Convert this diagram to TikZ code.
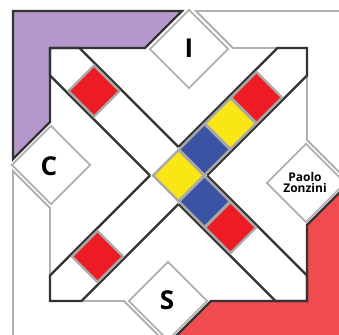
\documentclass[tikz,border=0pt]{standalone}
\usepackage{fontspec}
\setmainfont{Open Sans}
\usetikzlibrary{shapes.geometric}
\definecolor{darkln}{RGB}{51,51,51}
\definecolor{lgray}{RGB}{178,176,172}
\definecolor{tgray}{RGB}{168,168,166}
\definecolor{purp}{RGB}{180,152,203}
\definecolor{redpc}{RGB}{239,75,80}
\definecolor{tred}{RGB}{237,28,36}
\definecolor{tyel}{RGB}{250,230,20}
\definecolor{tblue}{RGB}{58,83,164}
\tikzset{
  darkline/.style={draw=darkln, line width=2.2pt, line join=miter},
  grayline/.style={draw=lgray, line width=1.8pt, line join=miter},
  tilesq/.style={shape=diamond, shape aspect=1, minimum width=52pt, minimum height=52pt, inner sep=0pt, draw=tgray, line width=2.2pt},
  spot/.style={shape=diamond, shape aspect=1, minimum width=79pt, minimum height=79pt, inner sep=0pt, fill=white, draw=lgray, line width=1.8pt},
  letter/.style={font=\fontsize{26}{26}\selectfont\bfseries},
  author/.style={font=\fontsize{12}{11}\selectfont\bfseries, align=center}
}
\begin{document}
\begin{tikzpicture}[x=1pt,y=-1pt]
\useasboundingbox (0,0) rectangle (339,334);
\clip (0,0) rectangle (339,334);
\fill[white] (0,0) rectangle (339,334);
% corner pieces
\path[fill=purp, darkline] (13,11) -- (182,11) -- (145,48) -- (50,48) -- (50,122) -- (13,159) -- cycle;
\path[fill=redpc, darkline] (345,187) -- (307,225) -- (307,301) -- (211,301) -- (174,338) -- (345,338) -- cycle;
\path[grayline] (196,11) -- (360,11) -- (360,193) -- (345,178) -- (307,140) -- (307,48) -- (233,48) -- cycle;
\path[grayline] (13,171) -- (50,208) -- (50,301) -- (124,301) -- (161,338) -- (13,338) -- cycle;
% bands
\path[darkline] (178.5,147) -- (79.5,48) -- (50,48) -- (50,75.5) -- (150,175.5);
\path[darkline] (178.5,147) -- (277.5,48) -- (307,48) -- (307,75.5) -- (207,175.5);
\path[darkline] (207,175.5) -- (307,275.5) -- (307,301) -- (275.5,301) -- (178.5,204);
\path[darkline] (150,175.5) -- (50,275.5) -- (50,301) -- (81.5,301) -- (178.5,204);
% tiles
\node[tilesq, fill=tred] (t1) at (94,91) {};
\node[tilesq, fill=tyel] (t2) at (178.5,175.5) {};
\node[tilesq, fill=tblue] (t3) at (204.5,201.5) {};
\node[tilesq, fill=tred] (t4) at (230.5,227.5) {};
\node[tilesq, fill=tblue] (t5) at (204.5,149.5) {};
\node[tilesq, fill=tyel] (t6) at (230.5,123.5) {};
\node[tilesq, fill=tred] (t7) at (256.5,97.5) {};
\node[tilesq, fill=tred] (t8) at (97.5,256.5) {};
% spots
\node[spot] (spI) at (189,49) {};
\node[spot] (spC) at (51,165) {};
\node[spot] (spS) at (168,301) {};
\node[spot] (spP) at (306,183) {};
\node[letter] (txI) at (189,48.5) {I};
\node[letter] (txC) at (49,166) {C};
\node[letter] (txS) at (167,300) {S};
\node[author] (txP) at (305,182.5) {Paolo\\Zonzini};
\end{tikzpicture}
\end{document}
